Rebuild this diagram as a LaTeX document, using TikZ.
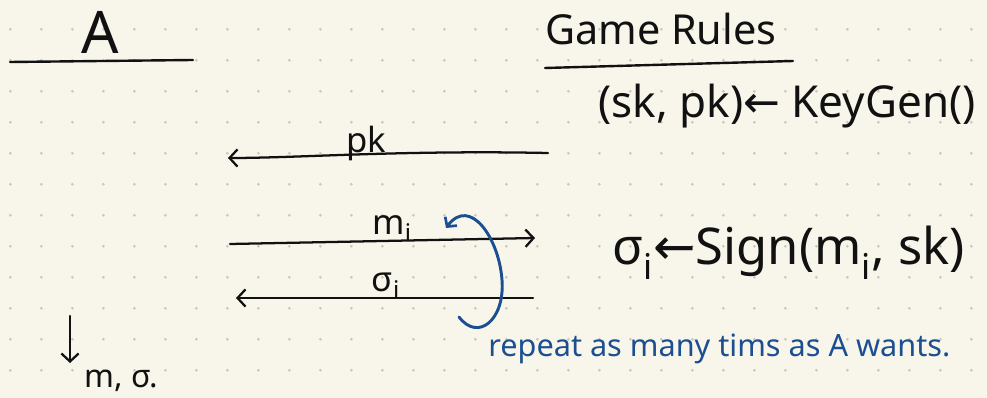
\documentclass[tikz,border=0pt]{standalone}
\usepackage{fontspec}
\setmainfont{Noto Sans}
\newfontfamily\arrowfont{DejaVu Sans}
\usetikzlibrary{arrows.meta}
\definecolor{paper}{HTML}{F8F6EB}
\definecolor{dotc}{HTML}{C9C8BE}
\definecolor{ink}{HTML}{111111}
\definecolor{blueink}{HTML}{1B4F91}
\begin{document}
\begin{tikzpicture}[x=0.75pt,y=-0.75pt,
  lbl/.style={inner sep=0pt, text=ink},
  rule/.style={draw=ink, line width=1.8pt, line cap=round},
  msg/.style={draw=ink, line width=1.7pt, line cap=round, -{Straight Barb[length=6pt,width=13pt,line width=1.7pt]}},
  loop/.style={draw=blueink, line width=2.2pt, line cap=round, -{Straight Barb[length=5pt,width=11pt,line width=2pt]}}]
\fill[paper] (0,0) rectangle (987,398);
\useasboundingbox (0,0) rectangle (987,398);
\foreach \i in {0,...,31} \foreach \j in {0,...,11} \fill[dotc] (10.3+31*\i, 29.3+31*\j) circle (1.5);
% headers
\node[lbl, font=\fontsize{44}{50}\selectfont] (A) at (100,32) {A};
\coordinate (au1) at (10,62); \coordinate (au2) at (193,60);
\draw[rule] (au1) -- (au2);
\node[lbl, anchor=base west, font=\fontsize{31}{34}\selectfont] (gr) at (545,45) {Game Rules};
\coordinate (gu1) at (545,68); \coordinate (gu2) at (793,61);
\draw[rule] (gu1) -- (gu2);
\node[lbl, anchor=base east, font=\fontsize{33}{36}\selectfont] (kg) at (976,118) {(sk, pk){\arrowfont ←} KeyGen()};
\node[lbl, anchor=base west, font=\fontsize{38}{42}\selectfont] (sg) at (612,265) {σ\textsubscript{i}{\arrowfont ←}Sign(m\textsubscript{i}, sk)};
% messages
\coordinate (pks) at (548,153); \coordinate (pke) at (228,158);
\draw[msg] (pks) .. controls (400,150) and (300,158) .. (pke);
\node[lbl, anchor=base, font=\fontsize{26}{28}\selectfont] (pkl) at (366,153) {pk};
\coordinate (ms) at (230,244); \coordinate (me) at (535,238);
\draw[msg] (ms) -- (me);
\node[lbl, anchor=base, font=\fontsize{26}{28}\selectfont] (ml) at (392,235) {m\textsubscript{i}};
\coordinate (ss) at (533,298); \coordinate (se) at (236,298);
\draw[msg] (ss) -- (se);
\node[lbl, anchor=base, font=\fontsize{26}{28}\selectfont] (sl) at (386,292) {σ\textsubscript{i}};
% repeat loop
\coordinate (ls) at (459,317); \coordinate (le) at (446,228);
\draw[loop] (ls) .. controls (478,342) and (505,320) .. (502,280) .. controls (499,238) and (470,196) .. (le);
\node[lbl, text=blueink, anchor=base west, font=\fontsize{23}{25}\selectfont] (rep) at (488,357) {repeat as many tims as A wants.};
% output
\coordinate (os) at (70,316); \coordinate (oe) at (70,363);
\draw[msg] (os) -- (oe);
\node[lbl, anchor=base west, font=\fontsize{24}{26}\selectfont] (out) at (84,387) {m, σ.};
\end{tikzpicture}
\end{document}
